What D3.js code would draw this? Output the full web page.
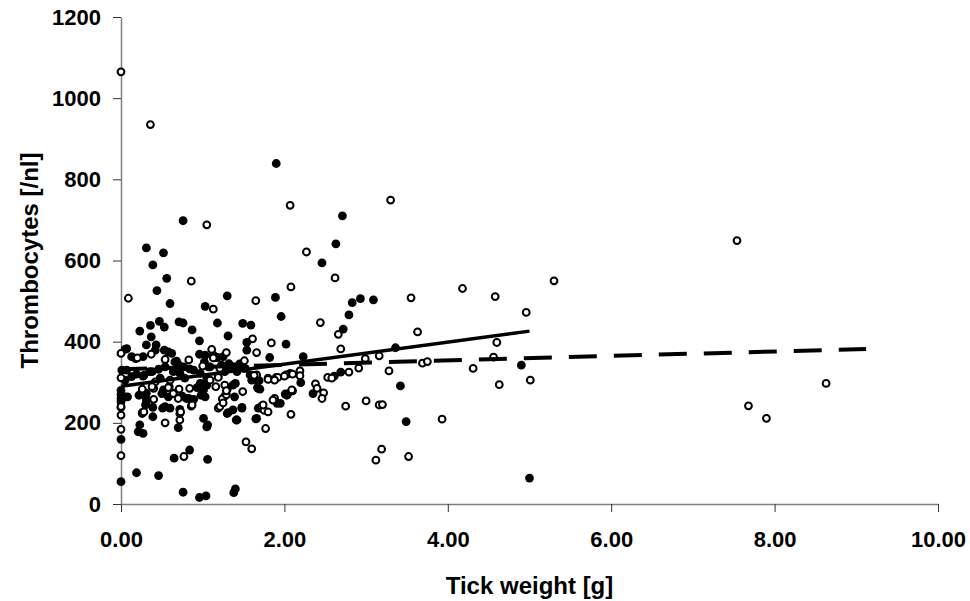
<!DOCTYPE html>
<html>
<head>
<meta charset="utf-8">
<script src="https://cdn.jsdelivr.net/npm/d3@7"></script>
<style>
body{margin:0;background:#fff;}
svg text{font-family:"Liberation Sans",Arial,sans-serif;font-weight:bold;fill:#000;}
</style>
</head>
<body>
<div id="chart"></div>
<script>
// tick weight [g] vs thrombocytes [/nl], two groups
var xTicks = [0, 2, 4, 6, 8, 10];
var yTicks = [0, 200, 400, 600, 800, 1000, 1200];

// filled markers
var filledPoints = [
	[0.60,494],[1.03,487],[1.30,513],[1.89,509],[1.96,462],[1.90,839],[0.76,698],[0.31,631],[0.52,619],
	[0.39,589],[0.56,556],[0.44,526],[2.71,710],[2.63,641],[2.46,594],[2.83,496],[2.93,506],[3.09,503],
	[2.79,466],[2.72,431],[3.36,385],[0.23,426],[0.36,440],[0.47,450],[0.53,436],[0.71,449],[0.76,446],
	[0.87,429],[1.18,446],[1.49,445],[1.59,441],[1.31,414],[0.96,402],[0.37,412],[0.31,392],[0.43,392],
	[1.54,398],[2.02,394],[2.23,363],[2.07,322],[2.20,299],[2.04,271],[2.35,272],[2.61,315],[2.69,325],
	[1.95,248],[3.42,291],[3.49,203],[4.90,342],[5.00,64],
	[0.05,381],[0.13,363],[0.18,358],[0.27,363],[0.42,379],[0.53,379],[0.58,375],[0.62,371],[0.68,352],
	[0.77,338],[0.84,333],[0.96,369],[1.02,350],[1.18,361],[1.13,367],[1.32,346],[1.38,338],[1.45,345],
	[1.54,379],[1.82,361],[1.69,304],[1.70,283],[2.03,268],[1.91,248],[1.65,210],[1.41,207],[1.48,236],
	[1.30,223],[1.37,232],[1.05,190],[1.01,211],[0.84,133],[0.65,113],[1.06,110],[0.76,29],[0.96,16],
	[1.04,20],[1.38,28],[1.40,37],[0.19,77],[0.46,70],[0,55],[0,159],[0,270],[0,260],[0,280],[0.05,264],
	[0.21,178],[0.27,174],[0.23,195],[0.39,215],[0.39,238],[0.31,246],[0.51,236],[0.60,236],[0.70,188],
	[0.72,233],[0.89,258],[0.80,260],[0.98,268],[1.03,264],[1.30,283],[1.40,297],[0.97,293],[0.93,287],
	[0.59,289],[0.52,281],[0.31,273],[0.31,256],[0.08,264],
	[0.13,314],[0.19,320],[0.27,315],[0.35,326],[0.46,332],[0.54,338],[0.64,326],[0.72,322],[0.78,310],
	[0.89,330],[0.97,322],[1.05,310],[1.07,338],[1.23,342],[1.27,326],[1.33,340],[1.42,326],[1.52,334],
	[1.58,318],[1.60,305],[1.67,287],
	[0.07,383],[0.66,350],[0.71,342],[0.01,330],[0.07,330],[0.05,305],[0.28,317],[0.38,326],[0.48,310],
	[0,252],[0.22,268],[0.30,264],[0.50,272],[0.58,264],[0.75,266],[0.83,260],[0.30,244],[0.26,223],
	[0.54,240],[1.03,367],[1.17,361],[1.25,363],[1.09,338],[1.27,334],[1.37,338],[1.50,334],[1.66,305],
	[1.68,285],[0.97,297],[1.01,281],[1.05,293],[1.37,293],[1.39,264],[2.01,271],[1.68,236],[1.31,225],
	[1.48,238],[1.42,207],[1.66,211],[1.06,195]
];

// open markers
var openPoints = [
	[0,1065],[0.36,935],[1.05,688],[2.07,736],[3.30,749],[2.27,621],[0.09,507],[0.86,549],[1.65,501],
	[2.08,535],[1.13,480],[1.61,407],[1.84,397],[2.62,557],[3.55,508],[4.18,531],[2.44,447],[2.66,418],
	[3.63,424],[2.69,382],[2.99,358],[3.16,365],[2.02,318],[2.19,328],[2.19,316],[2.10,279],[2.38,296],
	[2.40,285],[2.48,274],[2.46,260],[2.53,312],[2.58,310],[2.79,325],[2.91,335],[2.75,241],[3.00,254],
	[3.16,244],[3.28,328],[3.69,347],[3.75,351],[4.31,334],[3.93,209],[3.20,245],[2.08,221],[3.19,135],
	[3.12,108],[3.52,117],[5.30,550],[4.58,511],[4.96,472],[4.60,398],[4.56,362],[4.63,294],[5.01,305],
	[7.54,649],[8.63,297],[7.68,242],[7.90,211],
	[0,371],[0.20,360],[0.37,369],[0.54,356],[0.83,355],[1.11,381],[1.29,373],[1.13,360],[1.51,353],
	[1.66,373],[2.10,320],[1.90,312],[1.80,310],[1.66,318],[1.63,317],[2.09,281],[1.88,260],[1.86,256],
	[1.72,241],[1.75,231],[1.77,186],[1.53,153],[1.60,136],[1.27,266],[1.24,259],[1.19,236],[0.77,117],
	[0,119],[0,184],[0,219],[0,238],[0,311],[0.26,225],[0.40,258],[0.54,200],[0.72,207],[0.72,223],
	[0.86,241],[1.16,289],[1.19,314],[1.29,269],[1.49,277],[0.71,283],[0.65,273],[0.40,285],[0.26,283],
	[0.42,301],[0.60,305],[0.84,285],[0.70,260],[1.09,305],[1.27,293],[1.21,334],[0.38,289],[0.58,287],
	[0.64,272],[0.87,244],[0,240],[0.28,227],[0.73,227],[1.00,340],[1.92,312],[2.00,315],[1.80,307],
	[1.88,305],[1.19,312],[1.29,279],[1.74,244],[1.80,227],[1.21,240],[1.25,249]
];

// linear trend lines [x, y] end points
var solidTrend = [[0, 290], [5.0, 426]];
var dashedTrend = [[0, 332], [9.12, 382]];

var W = 970, H = 601;
var margin = {left: 121, top: 17, right: 32, bottom: 97};

var svg = d3.select("#chart").append("svg").attr("width", W).attr("height", H);

var x = d3.scaleLinear().domain([0, 10]).range([margin.left, W - margin.right]);
var y = d3.scaleLinear().domain([0, 1200]).range([H - margin.bottom, margin.top]);

var xAxis = svg.append("g").attr("transform", "translate(0," + y(0) + ")")
		.call(d3.axisBottom(x).tickValues(xTicks).tickFormat(d3.format(".2f")).tickSize(8).tickSizeOuter(0).tickPadding(19));
var yAxis = svg.append("g").attr("transform", "translate(" + x(0) + ",0)")
		.call(d3.axisLeft(y).tickValues(yTicks).tickFormat(d3.format("d")).tickSize(8).tickSizeOuter(0).tickPadding(12));

[xAxis, yAxis].forEach(function(g){
	g.select(".domain").attr("stroke", "#808080").attr("stroke-width", 1.5);
	g.selectAll(".tick line").attr("stroke", "#333").attr("stroke-width", 1);
	g.selectAll(".tick text").style("font-size", "22px").attr("fill", "#000");
});

var line = d3.line().x(function(d){ return x(d[0]); }).y(function(d){ return y(d[1]); });

svg.append("g").selectAll("circle").data(filledPoints).enter().append("circle")
		.attr("cx", function(d){ return x(d[0]); })
		.attr("cy", function(d){ return y(d[1]); })
		.attr("r", 4.4)
		.attr("fill", "#000");

svg.append("g").selectAll("circle").data(openPoints).enter().append("circle")
		.attr("cx", function(d){ return x(d[0]); })
		.attr("cy", function(d){ return y(d[1]); })
		.attr("r", 3.4)
		.attr("fill", "#fff")
		.attr("stroke", "#000")
		.attr("stroke-width", 2);

svg.append("path").datum(solidTrend).attr("d", line)
		.attr("fill", "none").attr("stroke", "#000").attr("stroke-width", 3.5);
svg.append("path").datum(dashedTrend).attr("d", line)
		.attr("fill", "none").attr("stroke", "#000").attr("stroke-width", 4)
		.attr("stroke-dasharray", "28,17").attr("stroke-dashoffset", 2);

svg.append("text")
		.attr("x", (x(0) + x(10)) / 2).attr("y", 594)
		.attr("text-anchor", "middle").style("font-size", "24px")
		.text("Tick weight [g]");
svg.append("text")
		.attr("transform", "translate(38," + ((y(0) + y(1200)) / 2) + ") rotate(-90)")
		.attr("text-anchor", "middle").style("font-size", "24px")
		.text("Thrombocytes [/nl]");
</script>
</body>
</html>
